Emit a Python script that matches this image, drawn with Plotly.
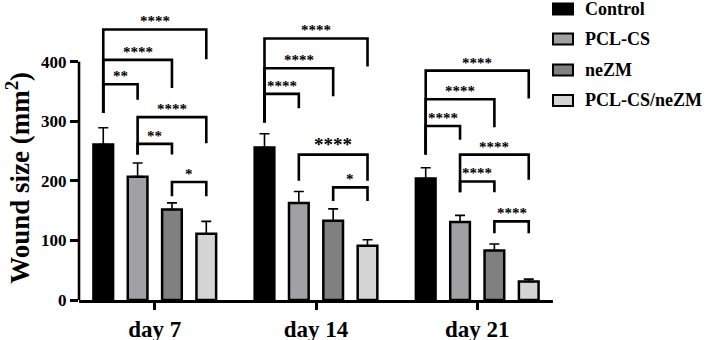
import plotly.graph_objects as go

# ---------------- data ----------------
days = ["day 7", "day 14", "day 21"]
groups = ["Control", "PCL-CS", "neZM", "PCL-CS/neZM"]
control = [261, 256, 204]
control_err = [28, 23, 18]
pcl_cs = [207, 163, 131]
pcl_cs_err = [23, 19, 11]
nezm = [152, 133, 83]
nezm_err = [11, 20, 11]
pcl_cs_nezm = [111, 91, 31]
pcl_cs_nezm_err = [21, 10, 4]
y_ticks = [0, 100, 200, 300, 400]

# significance brackets: (day index, group a, group b, bracket level, left leg end, right leg end, label)
brackets = [
    (0, 0, 3, 454, 314, 404, "****"),
    (0, 0, 2, 403, 314, 356, "****"),
    (0, 0, 1, 362, 314, 336, "**"),
    (0, 1, 3, 307, 244, 263, "****"),
    (0, 1, 2, 262, 244, 244, "**"),
    (0, 2, 3, 198, 174, 174, "*"),
    (1, 0, 3, 439, 298, 392, "****"),
    (1, 0, 2, 389, 298, 342, "****"),
    (1, 0, 1, 346, 298, 322, "****"),
    (1, 1, 3, 244, 200, 200, "****"),
    (1, 2, 3, 189, 166, 166, "*"),
    (2, 0, 3, 385, 244, 338, "****"),
    (2, 0, 2, 337, 244, 290, "****"),
    (2, 0, 1, 292, 244, 269, "****"),
    (2, 1, 3, 244, 181, 202, "****"),
    (2, 1, 2, 199, 181, 181, "****"),
    (2, 2, 3, 132, 112, 112, "****"),
]

colors = ["#000000", "#a1a1a5", "#808080", "#d4d4d4"]
values = [control, pcl_cs, nezm, pcl_cs_nezm]
errors = [control_err, pcl_cs_err, nezm_err, pcl_cs_nezm_err]

FONT = "Liberation Serif"
BARGAP = 0.148
BARGROUPGAP = 0.427
Y_MAX = 480
W, H = 708, 340
ML, MR, MT, MB = 79, 155, 14, 40
plot_w = W - ML - MR
plot_h = H - MT - MB

x_idx = list(range(len(days)))

fig = go.Figure()
for g, vals, errs, col in zip(groups, values, errors, colors):
    fig.add_trace(go.Bar(
        x=x_idx, y=vals, name=g,
        marker=dict(color=col, line=dict(color="black", width=2.5)),
        error_y=dict(type="data", array=errs, arrayminus=[0] * len(errs),
                     symmetric=False, color="black", thickness=1.6, width=5),
        showlegend=False,
    ))

slot = (1 - BARGAP) / len(groups)


def bar_x(day, grp):
    return day + (grp - (len(groups) - 1) / 2) * slot


shapes = []
annotations = []
for day, a, b, level, yl, yr, lab in brackets:
    xa, xb = bar_x(day, a), bar_x(day, b)
    shapes.append(dict(
        type="path", xref="x", yref="y",
        path=f"M {xa},{yl} L {xa},{level} L {xb},{level} L {xb},{yr}",
        line=dict(color="black", width=2.6),
    ))
    big = (day == 1 and a == 1 and b == 3)
    annotations.append(dict(
        x=(xa + xb) / 2, y=level, xref="x", yref="y",
        text=lab, showarrow=False, yanchor="bottom", xanchor="center",
        font=dict(family=FONT, size=19 if big else 15, color="black", weight="bold"),
        yshift=-2,
    ))

# y axis line only from 0 to 400
shapes.append(dict(type="line", xref="paper", yref="y", x0=0, x1=0,
                   y0=0, y1=y_ticks[-1], line=dict(color="black", width=2.6)))

# y-axis title
annotations.append(dict(
    x=(18 - ML) / plot_w, y=205, xref="paper", yref="y",
    text="Wound size (mm<sup>2</sup>)", textangle=-90, showarrow=False,
    xanchor="center", yanchor="middle",
    font=dict(family=FONT, size=27, color="black", weight="bold"),
))

# custom legend (positions in page pixels)
leg_centers_px = [9, 39, 70, 100.5]
for g, col, cy in zip(groups, colors, leg_centers_px):
    yp = (H - MB - cy) / plot_h
    h2 = 5.5 / plot_h
    shapes.append(dict(type="rect", xref="paper", yref="paper",
                       x0=(553 - ML) / plot_w, x1=(573 - ML) / plot_w,
                       y0=yp - h2, y1=yp + h2,
                       fillcolor=col, line=dict(color="black", width=2)))
    annotations.append(dict(
        x=(583 - ML) / plot_w, y=yp, xref="paper", yref="paper",
        text=g, showarrow=False, xanchor="left", yanchor="middle",
        font=dict(family=FONT, size=18, color="black", weight="bold"),
    ))

fig.update_layout(
    width=W, height=H,
    margin=dict(l=ML, r=MR, t=MT, b=MB, pad=0),
    paper_bgcolor="white", plot_bgcolor="white",
    barmode="group", bargap=BARGAP, bargroupgap=BARGROUPGAP,
    font=dict(family=FONT, color="black", weight="bold"),
    shapes=shapes, annotations=annotations,
    xaxis=dict(
        range=[-0.47, 2.47], tickmode="array", tickvals=x_idx, ticktext=days,
        showline=True, linecolor="black", linewidth=2.6,
        ticks="outside", ticklen=7, tickwidth=2.6, tickcolor="black",
        tickfont=dict(family=FONT, size=23, color="black", weight="bold"),
        showgrid=False, zeroline=False, automargin=False,
    ),
    yaxis=dict(
        range=[0, Y_MAX], tickmode="array", tickvals=y_ticks,
        showline=False, ticks="outside", ticklen=8, tickwidth=2.6, tickcolor="black",
        tickfont=dict(family=FONT, size=17, color="black", weight="bold"),
        showgrid=False, zeroline=False, automargin=False,
    ),
)

fig.write_html(
    "out.html",
    config={"displayModeBar": False},
    post_script="document.body.style.margin='0';document.body.style.overflow='hidden';",
)
